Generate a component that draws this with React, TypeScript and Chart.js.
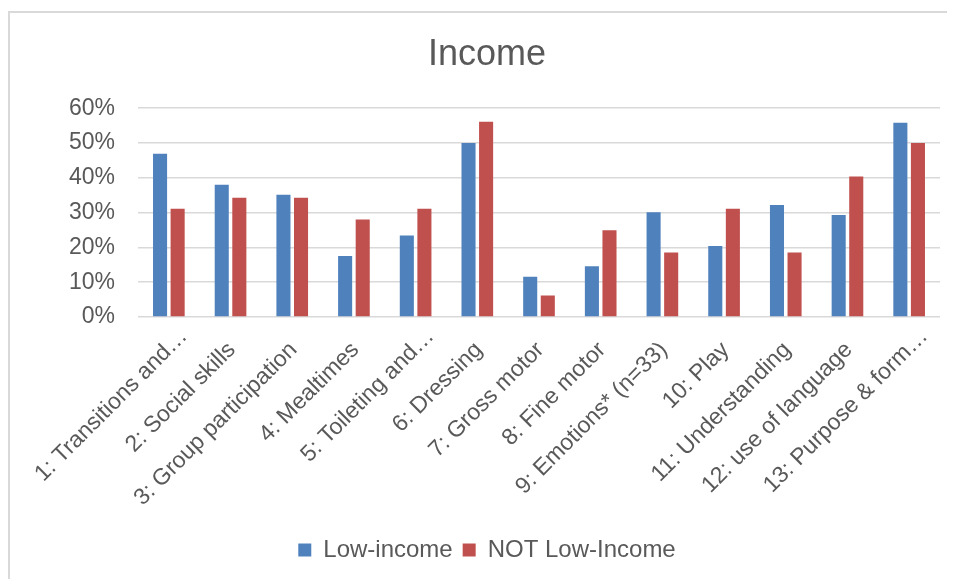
import React, { useEffect, useRef } from "react";
import { Chart, registerables } from "chart.js";

Chart.register(...registerables);

const categories = [
  "1: Transitions and…",
  "2: Social skills",
  "3: Group participation",
  "4: Mealtimes",
  "5: Toileting and…",
  "6: Dressing",
  "7: Gross motor",
  "8: Fine motor",
  "9: Emotions* (n=33)",
  "10: Play",
  "11: Understanding",
  "12: use of language",
  "13: Purpose & form…",
];

const lowIncome = [46.9, 38.0, 35.1, 17.5, 23.4, 50.0, 11.6, 14.6, 30.1, 20.4, 32.2, 29.3, 55.8];
const notLowIncome = [31.1, 34.3, 34.3, 28.0, 31.1, 56.1, 6.2, 24.9, 18.5, 31.1, 18.5, 40.4, 50.0];

const yTicks = [0, 10, 20, 30, 40, 50, 60];

const FONT = "'Liberation Sans', Arial, sans-serif";
const GREY = "#595959";

export default function App() {
  const ref = useRef<HTMLCanvasElement | null>(null);

  useEffect(() => {
    if (!ref.current) return;
    const chart = new Chart(ref.current, {
      type: "bar",
      data: {
        labels: categories,
        datasets: [
          {
            label: "Low-income",
            data: lowIncome,
            backgroundColor: "#4F81BD",
            categoryPercentage: 0.57,
            barPercentage: 0.8,
          },
          {
            label: "NOT Low-Income",
            data: notLowIncome,
            backgroundColor: "#C0504D",
            categoryPercentage: 0.57,
            barPercentage: 0.8,
          },
        ],
      },
      options: {
        responsive: false,
        animation: false,
        layout: { padding: { top: 0, right: 28, bottom: 21, left: 24 } },
        plugins: {
          title: {
            display: true,
            text: "Income",
            color: GREY,
            font: { family: FONT, size: 36, weight: "normal" },
            padding: { top: 20, bottom: 32 },
          },
          legend: {
            display: true,
            position: "bottom",
            labels: {
              color: GREY,
              font: { family: FONT, size: 24 },
              boxWidth: 13,
              boxHeight: 13,
              padding: 10,
            },
          },
          tooltip: { enabled: false },
        },
        scales: {
          x: {
            grid: { display: false },
            border: { display: false },
            ticks: {
              color: GREY,
              font: { family: FONT, size: 23 },
              minRotation: 45,
              maxRotation: 45,
              autoSkip: false,
              labelOffset: 15,
              padding: -2,
              callback: (_v: any, i: number) => {
                const s = categories[i];
                return s.endsWith("…") ? s : s + "   ";
              },
            },
            afterFit: (scale: any) => {
              scale.height = 211;
            },
          },
          y: {
            min: 0,
            max: 60,
            afterBuildTicks: (scale: any) => {
              scale.ticks = yTicks.map((v) => ({ value: v }));
            },
            grid: { color: "#d9d9d9", lineWidth: 1.5, drawTicks: false },
            border: { display: false },
            ticks: {
              color: GREY,
              font: { family: FONT, size: 23 },
              padding: 23,
              callback: (v: any) => `${v}%`,
            },
            afterFit: (scale: any) => {
              scale.width = 104;
            },
          },
        },
      },
    });
    return () => chart.destroy();
  }, []);

  return (
    <div style={{ width: 947, height: 571, overflow: "hidden", position: "relative" }}>
      <div
        style={{
          position: "absolute",
          left: 0,
          top: 3,
          width: 962,
          height: 600,
          border: "2px solid #d9d9d9",
          boxSizing: "border-box",
          background: "#fff",
        }}
      >
        <canvas ref={ref} width={958} height={580} style={{ position: "absolute", left: 0, top: 0 }} />
      </div>
    </div>
  );
}
